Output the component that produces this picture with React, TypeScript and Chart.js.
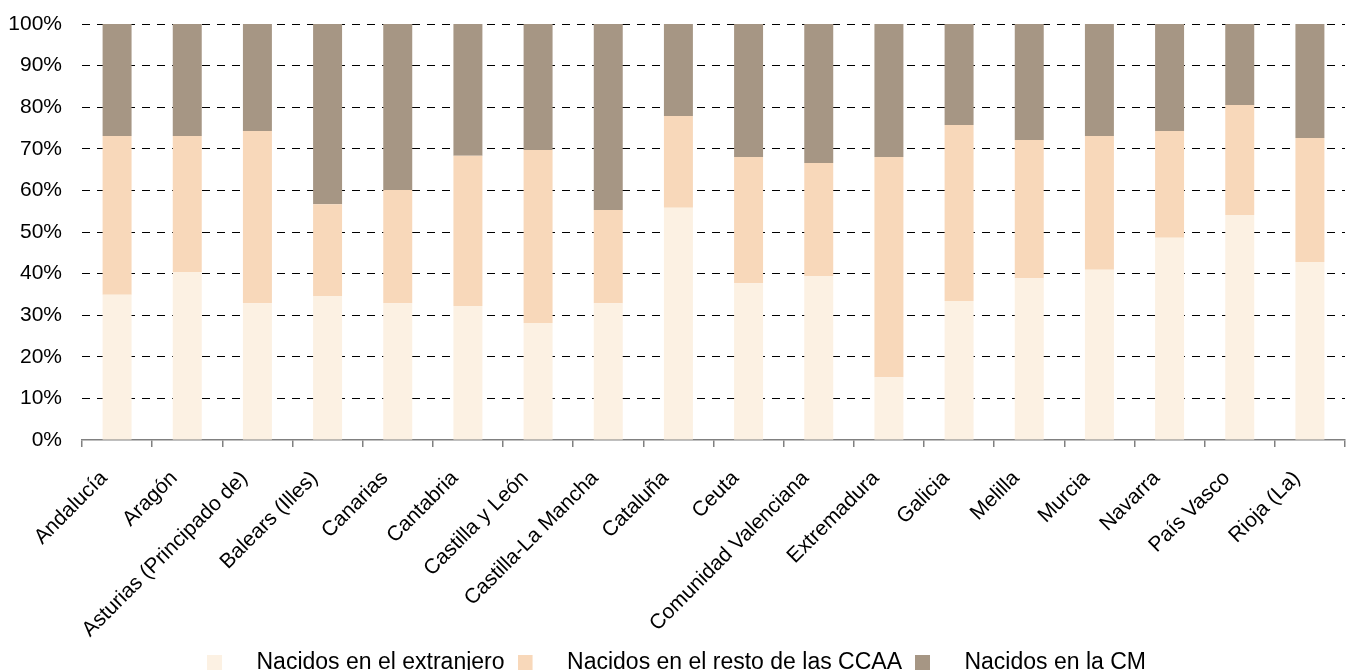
import React, { useEffect, useRef } from "react";
import { Chart, registerables } from "chart.js";

Chart.register(...registerables);

const categories = [
  "Andalucía",
  "Aragón",
  "Asturias (Principado de)",
  "Balears (Illes)",
  "Canarias",
  "Cantabria",
  "Castilla y León",
  "Castilla-La Mancha",
  "Cataluña",
  "Ceuta",
  "Comunidad Valenciana",
  "Extremadura",
  "Galicia",
  "Melilla",
  "Murcia",
  "Navarra",
  "País Vasco",
  "Rioja (La)",
];

const extranjero = [34.9, 40.4, 32.9, 34.6, 32.9, 32.2, 28.1, 32.9, 55.8, 37.7, 39.4, 15.1, 33.4, 38.9, 40.9, 48.6, 54.1, 42.8];
const restoCCAA = [38.2, 32.7, 41.4, 22.1, 27.2, 36.1, 41.6, 22.4, 22.1, 30.3, 27.2, 52.9, 42.3, 33.2, 32.2, 25.7, 26.4, 29.8];
const enCM = [26.9, 26.9, 25.7, 43.3, 39.9, 31.7, 30.3, 44.7, 22.1, 32.0, 33.4, 32.0, 24.3, 27.9, 26.9, 25.7, 19.5, 27.4];

const seriesNames = ["Nacidos en el extranjero", "Nacidos en el resto de las CCAA", "Nacidos en la CM"];
const seriesColors = ["#FCF1E3", "#F8D8BA", "#A69684"];
const yTicks = [0, 10, 20, 30, 40, 50, 60, 70, 80, 90, 100];

const FONT = "'Liberation Sans', Arial, sans-serif";

function makeLegendSwatch(color: string) {
  const c = document.createElement("canvas");
  c.width = 38;
  c.height = 15;
  const ctx = c.getContext("2d")!;
  ctx.fillStyle = color;
  ctx.fillRect(0, 0, 15, 15);
  return c;
}

export default function App() {
  const ref = useRef<HTMLCanvasElement | null>(null);

  useEffect(() => {
    if (!ref.current) return;
    const swatches = seriesColors.map(makeLegendSwatch);
    const values = [extranjero, restoCCAA, enCM];
    const chart = new Chart(ref.current, {
      type: "bar",
      data: {
        labels: categories,
        datasets: seriesNames.map((name, i) => ({
          label: name,
          data: values[i],
          backgroundColor: seriesColors[i],
          borderWidth: 0,
          barPercentage: 0.413,
          categoryPercentage: 1,
        })),
      },
      options: {
        animation: false,
        responsive: true,
        maintainAspectRatio: false,
        layout: { padding: { top: 24, left: 8, right: 8, bottom: -14 } },
        plugins: {
          tooltip: { enabled: false },
          title: { display: false },
          legend: {
            position: "bottom",
            labels: {
              usePointStyle: true,
              pointStyleWidth: 38,
              boxHeight: 15,
              padding: 13,
              color: "#000",
              font: { family: FONT, size: 23 },
              generateLabels: (ch: any) => {
                const base = Chart.defaults.plugins.legend.labels.generateLabels(ch);
                return base.map((item: any, i: number) => ({
                  ...item,
                  pointStyle: swatches[i],
                  lineWidth: 0,
                  strokeStyle: "transparent",
                }));
              },
            },
          },
        },
        scales: {
          x: {
            stacked: true,
            border: { display: true, color: "#808080", width: 1.5 },
            grid: {
              display: true,
              drawOnChartArea: false,
              drawTicks: true,
              tickLength: 7,
              color: "#808080",
              lineWidth: 1.5,
              offset: true,
            },
            afterFit: (scale: any) => {
              scale.paddingLeft = 0;
              scale.paddingRight = 0;
              scale.height = 198;
            },
            ticks: {
              minRotation: 45,
              maxRotation: 45,
              autoSkip: false,
              color: "#000",
              padding: 19,
              labelOffset: -13,
              font: { family: FONT, size: 21 },
            },
          },
          y: {
            stacked: true,
            min: 0,
            max: 100,
            border: { display: false, dash: [8, 7] },
            grid: {
              drawTicks: false,
              color: (ctx: any) => (ctx.tick && ctx.tick.value === 0 ? "rgba(0,0,0,0)" : "#000"),
              lineWidth: 1,
            },
            afterBuildTicks: (scale: any) => {
              scale.ticks = yTicks.map((v) => ({ value: v }));
            },
            afterFit: (scale: any) => {
              scale.paddingTop = 0;
              scale.paddingBottom = 0;
              scale.width = 74;
            },
            ticks: {
              color: "#000",
              padding: 20,
              font: { family: FONT, size: 21 },
              callback: (v: any) => `${v}%`,
            },
          },
        },
      },
    });
    return () => chart.destroy();
  }, []);

  return (
    <div style={{ position: "fixed", left: 0, top: 0, width: 1353, height: 670 }}>
      <canvas ref={ref} />
    </div>
  );
}
